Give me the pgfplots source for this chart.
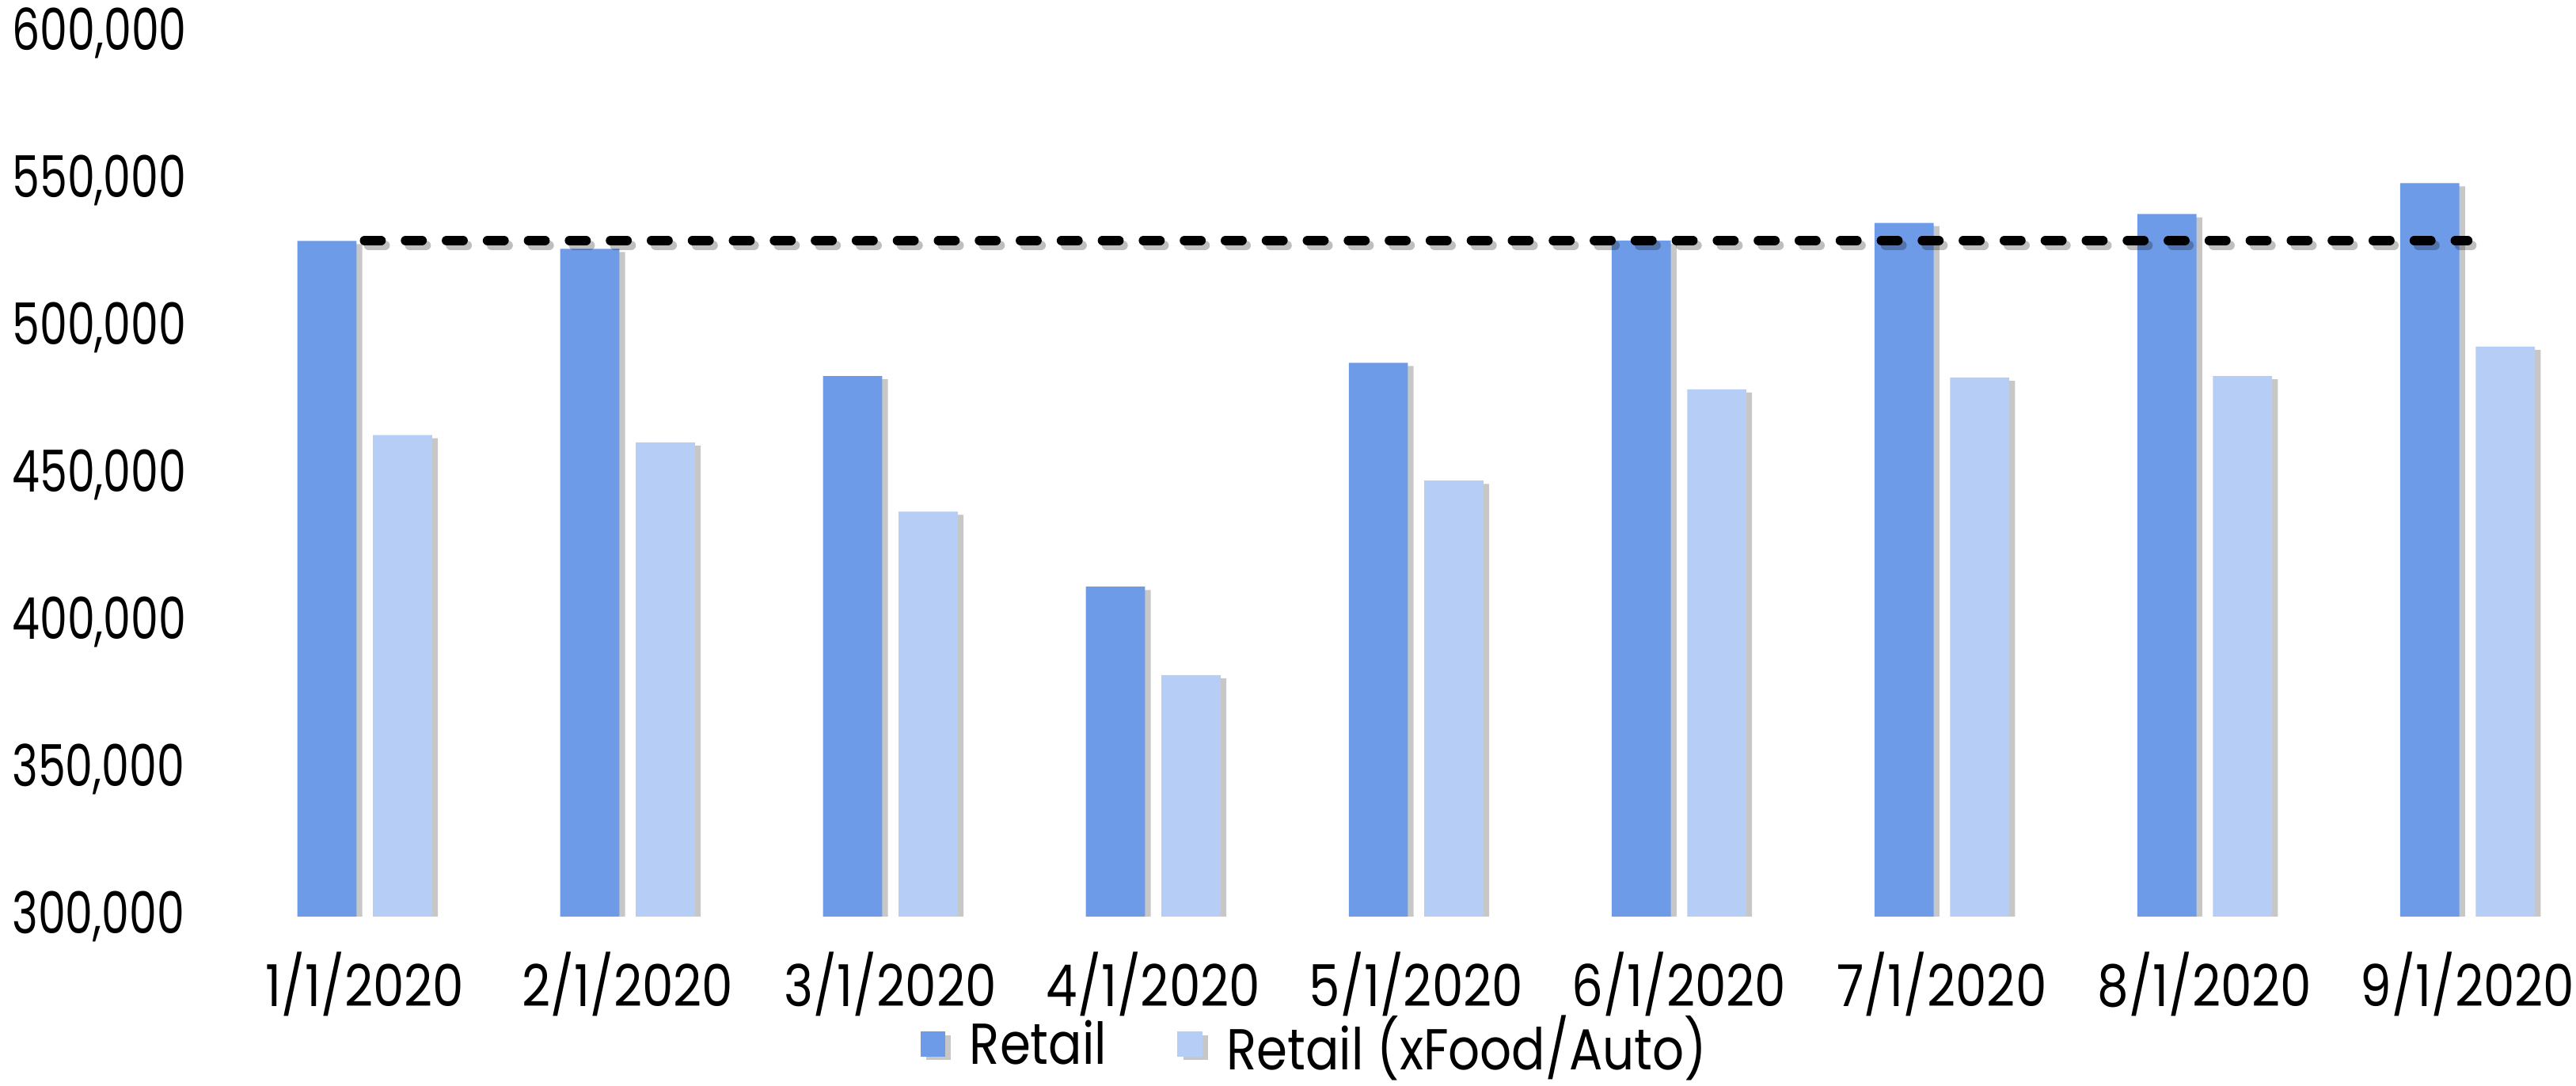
\documentclass[border=0pt]{standalone}
\usepackage{fontspec}
\setmainfont{Poppins}[FakeStretch=0.86]
\newfontfamily\yfont{Poppins}[FakeStretch=0.76]
\usepackage{pgfplots}
\pgfplotsset{compat=1.18}
\usetikzlibrary{shadows}
\definecolor{retail}{HTML}{6D9BE8}
\definecolor{retaillight}{HTML}{B6CDF5}
\begin{document}
\begin{tikzpicture}
\useasboundingbox (0,0) rectangle (15.68,6.61);
\begin{axis}[
  at={(1.26cm,1.03cm)}, anchor=south west,
  scale only axis, width=14.72cm, height=5.38cm,
  xmin=-0.6, xmax=8.6, ymin=300000, ymax=600000,
  axis line style={draw=none}, tick style={draw=none},
  xtick={0,...,8},
  xticklabels={1/1/2020,2/1/2020,3/1/2020,4/1/2020,5/1/2020,6/1/2020,7/1/2020,8/1/2020,9/1/2020},
  ytick={300000,350000,...,600000},
  scaled y ticks=false,
  xticklabel style={font=\fontsize{10}{12}\selectfont, yshift=-0.09cm},
  yticklabel style={font=\yfont\fontsize{10}{12}\selectfont, anchor=west, xshift=-1.31cm, /pgf/number format/.cd, fixed, precision=0, 1000 sep={,}, assume math mode=true},
  legend style={at={(0.46,-0.147)}, anchor=center, legend columns=-1, draw=none, fill=none,
    font=\fontsize{10}{12}\selectfont,
    /tikz/every odd column/.append style={column sep=0.08cm},
    /tikz/every even column/.append style={column sep=0.36cm}},
]
\addplot[ybar, bar width=0.36cm, bar shift=-0.23cm, fill=retail, draw=none,
  drop shadow={shadow xshift=0.035cm, shadow yshift=-0.02cm, opacity=0.22, fill=black},
  legend image code/.code={\fill[retail] (0cm,-0.06cm) rectangle (0.15cm,0.09cm);}]
  coordinates {(0,529400) (1,526700) (2,483500) (3,412000) (4,488000) (5,529500) (6,535500) (7,538500) (8,549000)};
\addlegendentry{Retail}
\addplot[ybar, bar width=0.36cm, bar shift=0.23cm, fill=retaillight, draw=none,
  drop shadow={shadow xshift=0.035cm, shadow yshift=-0.02cm, opacity=0.22, fill=black},
  legend image code/.code={\fill[retaillight] (0cm,-0.06cm) rectangle (0.15cm,0.09cm);}]
  coordinates {(0,463500) (1,461000) (2,437500) (3,382000) (4,448000) (5,479000) (6,483000) (7,483500) (8,493500)};
\addlegendentry{Retail (xFood/Auto)}
\addplot[forget plot, black, line width=1.7pt, line cap=round, dash pattern=on 2.8pt off 4.3pt,
  drop shadow={shadow xshift=0.025cm, shadow yshift=-0.03cm, opacity=0.25}]
  coordinates {(0,529500) (8,529500)};
\end{axis}
\end{tikzpicture}
\end{document}
